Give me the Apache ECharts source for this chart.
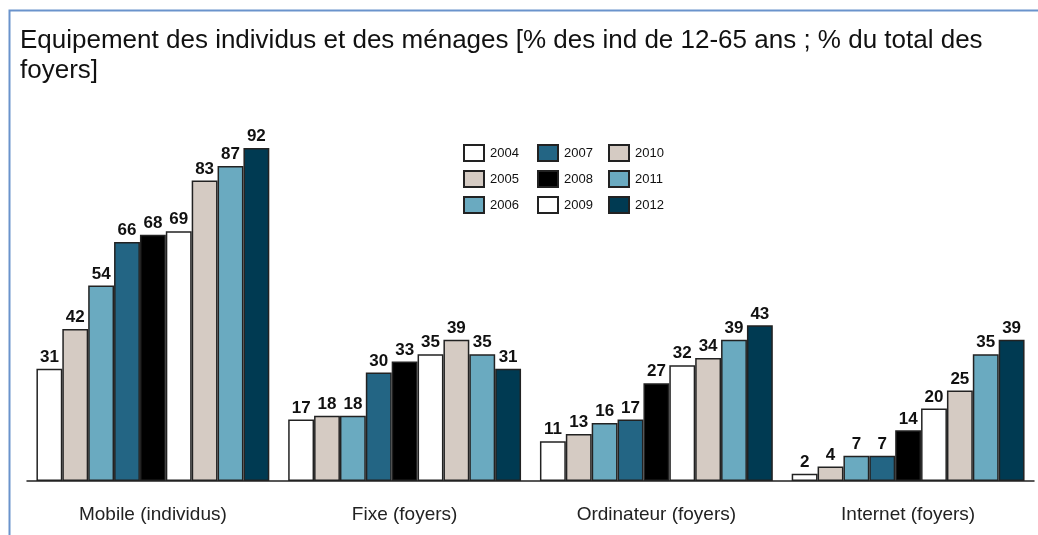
<!DOCTYPE html>
<html lang="fr">

<head>
    <meta charset="UTF-8">
    <title>Equipement</title>
    <script src="https://cdnjs.cloudflare.com/ajax/libs/echarts/6.0.0/echarts.min.js"></script>
    <style>
        html, body { margin: 0; padding: 0; background: #fff; }
    </style>
</head>

<body>
    <div id="mycharts" style="width: 1038px;height:535px;"></div>
    <script>
        var categories = ['Mobile (individus)', 'Fixe (foyers)', 'Ordinateur (foyers)', 'Internet (foyers)']
        var years = ['2004', '2005', '2006', '2007', '2008', '2009', '2010', '2011', '2012']
        var v2004 = [31, 17, 11, 2]
        var v2005 = [42, 18, 13, 4]
        var v2006 = [54, 18, 16, 7]
        var v2007 = [66, 30, 17, 7]
        var v2008 = [68, 33, 27, 14]
        var v2009 = [69, 35, 32, 20]
        var v2010 = [83, 39, 34, 25]
        var v2011 = [87, 35, 39, 35]
        var v2012 = [92, 31, 43, 39]
        var values = [v2004, v2005, v2006, v2007, v2008, v2009, v2010, v2011, v2012]
        var colors = ['#ffffff', '#d5cbc3', '#6aaac0', '#236584', '#000000', '#ffffff', '#d5cbc3', '#6aaac0', '#003a52']

        var font = '"Liberation Sans", Arial, sans-serif'
        var chart = echarts.init(document.getElementById('mycharts'))

        var series = years.map(function (y, i) {
            return {
                name: y,
                type: 'bar',
                barGap: '0',
                barCategoryGap: '7.5%',
                data: values[i],
                itemStyle: {
                    color: colors[i],
                    borderColor: '#222',
                    borderWidth: 1.5
                },
                label: {
                    show: true,
                    position: 'top',
                    distance: 3,
                    color: '#111',
                    fontFamily: font,
                    fontWeight: 'bold',
                    fontSize: 17
                }
            }
        })

        function legendCol(left, names) {
            return {
                orient: 'vertical',
                left: left,
                top: 144,
                padding: 0,
                icon: 'rect',
                itemWidth: 20,
                itemHeight: 16,
                itemGap: 8,
                data: names,
                selectedMode: false,
                textStyle: { fontFamily: font, fontSize: 13, color: '#111', padding: [0, 0, 0, 1] }
            }
        }

        var options = {
            animation: false,
            color: colors,
            title: {
                text: 'Equipement des individus et des ménages [% des ind de 12-65 ans ; % du total des\nfoyers]',
                left: 15,
                top: 26,
                padding: [0, 5],
                textStyle: {
                    fontFamily: font,
                    fontWeight: 'normal',
                    fontSize: 26,
                    lineHeight: 30,
                    color: '#111'
                }
            },
            graphic: [{
                type: 'rect',
                shape: { x: 9.5, y: 10.5, width: 1100, height: 600 },
                style: { fill: 'none', stroke: '#6a93cc', lineWidth: 2 },
                silent: true
            }],
            legend: [
                legendCol(463, ['2004', '2005', '2006']),
                legendCol(537, ['2007', '2008', '2009']),
                legendCol(608, ['2010', '2011', '2012'])
            ],
            grid: {
                left: 27,
                right: 4,
                top: 119,
                bottom: 54
            },
            xAxis: {
                type: 'category',
                data: categories,
                axisLine: { lineStyle: { color: '#222', width: 1.5 } },
                axisTick: { show: false },
                axisLabel: {
                    margin: 24,
                    fontFamily: font,
                    fontSize: 19,
                    color: '#222'
                }
            },
            yAxis: {
                type: 'value',
                min: 0,
                max: 100,
                show: false
            },
            series: series
        }
        chart.setOption(options)
    </script>

</body>

</html>
